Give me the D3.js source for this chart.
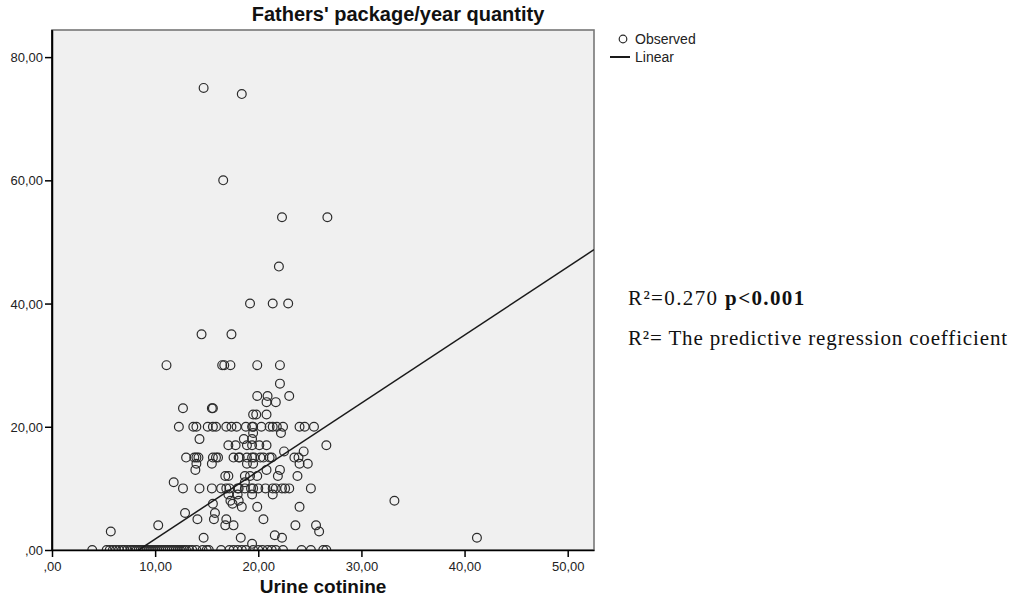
<!DOCTYPE html>
<html><head><meta charset="utf-8">
<script src="https://cdn.jsdelivr.net/npm/d3@7/dist/d3.min.js"></script>
<style>body{margin:0;background:#fff}svg{display:block}</style>
</head><body>
<svg id="chart" width="1016" height="609"></svg>
<script>
// ---- data ----
const title = "Fathers' package/year quantity";
const xLabel = "Urine cotinine";
const xTicks = [0, 10, 20, 30, 40, 50];
const yTicks = [0, 20, 40, 60, 80];
const legendLabels = ["Observed", "Linear"];
const annotation1 = ["R²=0.270  ", "p<0.001"];
const annotation2 = "R²= The predictive regression coefficient";
// regression line (linear fit) : packYears = intercept + slope * cotinine
const intercept = -9.27;
const slope = 1.104;
// observed values: urine cotinine (x) and package/year (y)
const cotinine = [
  14.7, 18.4, 16.6, 22.3, 26.7, 22.0,
  19.2, 21.4, 22.9,
  14.5, 17.4,
  11.1, 16.5, 16.7, 17.3, 19.9, 22.1,
  22.1,
  19.9, 20.9, 23.0,
  20.8, 21.7,
  12.7, 15.5, 15.6,
  19.5, 19.8, 20.8,
  12.3, 13.7, 14.0, 15.1, 15.6, 15.9, 16.9, 17.4, 17.9, 18.8, 19.4, 19.5, 20.3, 21.1, 21.4, 21.8, 22.4, 24.0, 24.5, 25.4,
  22.2, 19.5,
  14.3, 18.6, 19.4,
  17.1, 17.8, 18.9, 19.4, 20.1, 20.8, 26.6,
  22.5, 24.4,
  13.0, 13.8, 14.0, 14.2, 15.6, 15.9, 16.1, 17.6, 18.1, 18.2, 18.9, 19.4, 19.6, 20.2, 20.5, 21.1, 21.3, 23.5, 23.9,
  14.0, 15.5, 18.9, 19.5, 24.0, 24.8,
  13.9, 20.8, 22.1,
  16.8, 17.1, 18.7, 19.2, 19.9, 21.9, 23.8,
  11.8, 18.7,
  12.7, 14.3, 15.5, 16.4, 16.9, 17.2, 18.0, 18.1, 18.7, 19.3, 19.5, 20.0, 20.7, 21.4, 21.7, 22.3, 22.6, 23.0, 25.1,
  17.1, 18.0, 19.4, 21.4,
  17.3, 18.1, 33.2,
  15.6, 17.5,
  18.4, 19.9, 24.0,
  12.9, 15.8,
  14.1, 15.7, 16.9, 20.5,
  10.3, 16.8, 17.6, 23.6, 25.6,
  5.7, 25.9,
  14.7, 18.3, 22.3, 41.2, 21.6,
  19.4,
  3.9, 5.3, 5.6, 5.9, 6.2, 6.5, 6.8, 7.0, 7.3, 7.6, 7.8, 8.0, 8.2, 8.4, 8.6, 8.8, 9.0, 9.2, 9.4, 9.6, 9.8, 10.0,
  10.2, 10.4, 10.6, 10.8, 11.0, 11.2, 11.4, 11.6, 11.8, 12.0, 12.2, 12.4, 12.6, 12.8, 13.0, 13.3, 13.6, 14.0, 14.6,
  15.0, 15.2, 16.4, 17.2, 17.6, 18.0, 18.4, 18.8, 19.5, 20.0, 20.4, 20.9, 21.3, 21.7, 22.4, 24.2, 25.1, 26.3, 26.6
];
const packYears = [
  75, 74, 60, 54, 54, 46,
  40, 40, 40,
  35, 35,
  30, 30, 30, 30, 30, 30,
  27,
  25, 25, 25,
  24, 24,
  23, 23, 23,
  22, 22, 22,
  20, 20, 20, 20, 20, 20, 20, 20, 20, 20, 20, 20, 20, 20, 20, 20, 20, 20, 20, 20,
  19, 19,
  18, 18, 18,
  17, 17, 17, 17, 17, 17, 17,
  16, 16,
  15, 15, 15, 15, 15, 15, 15, 15, 15, 15, 15, 15, 15, 15, 15, 15, 15, 15, 15,
  14, 14, 14, 14, 14, 14,
  13, 13, 13,
  12, 12, 12, 12, 12, 12, 12,
  11, 11,
  10, 10, 10, 10, 10, 10, 10, 10, 10, 10, 10, 10, 10, 10, 10, 10, 10, 10, 10,
  9, 9, 9, 9,
  8, 8, 8,
  7.5, 7.5,
  7, 7, 7,
  6, 6,
  5, 5, 5, 5,
  4, 4, 4, 4, 4,
  3, 3,
  2, 2, 2, 2, 2.4,
  1,
  0, 0, 0, 0, 0, 0, 0, 0, 0, 0, 0, 0, 0, 0, 0, 0, 0, 0, 0, 0, 0, 0,
  0, 0, 0, 0, 0, 0, 0, 0, 0, 0, 0, 0, 0, 0, 0, 0, 0, 0, 0,
  0, 0, 0, 0, 0, 0, 0, 0, 0, 0, 0, 0, 0, 0, 0, 0, 0, 0, 0
];

// ---- layout ----
const svg = d3.select("#chart");
const plot = {left: 52, right: 594, top: 30, bottom: 550};
const x = d3.scaleLinear().domain([0, 52.55]).range([plot.left, plot.right]);
const y = d3.scaleLinear().domain([0, 84.4]).range([plot.bottom, plot.top]);
const fmt = v => (v === 0 ? "" : String(v)) + ",00";
const sans = "Liberation Sans, Arial, sans-serif";
const serif = "Liberation Serif, Times New Roman, serif";

svg.append("defs").append("clipPath").attr("id", "clip")
  .append("rect").attr("x", plot.left).attr("y", plot.top)
  .attr("width", plot.right - plot.left).attr("height", plot.bottom - plot.top);

// plot background and frame
svg.append("rect").attr("x", plot.left).attr("y", plot.top)
  .attr("width", plot.right - plot.left).attr("height", plot.bottom - plot.top)
  .attr("fill", "#f0f0f0").attr("stroke", "#777").attr("stroke-width", 1.6);

// points
svg.append("g").attr("clip-path", "url(#clip)")
  .selectAll("circle").data(cotinine.map((c, i) => [c, packYears[i]]))
  .join("circle")
  .attr("cx", d => x(d[0])).attr("cy", d => y(d[1])).attr("r", 4.4)
  .attr("fill", "none").attr("stroke", "#2b2b2b").attr("stroke-width", 1.2);

// regression line
const xs = x.domain();
svg.append("g").attr("clip-path", "url(#clip)").append("line")
  .attr("x1", x(xs[0])).attr("y1", y(intercept + slope * xs[0]))
  .attr("x2", x(xs[1])).attr("y2", y(intercept + slope * xs[1]))
  .attr("stroke", "#1a1a1a").attr("stroke-width", 1.5);

// axes
const xAxis = svg.append("g").attr("transform", `translate(0,${plot.bottom})`)
  .call(d3.axisBottom(x).tickValues(xTicks).tickFormat(fmt).tickSize(7).tickSizeOuter(0));
const yAxis = svg.append("g").attr("transform", `translate(${plot.left},0)`)
  .call(d3.axisLeft(y).tickValues(yTicks).tickFormat(fmt).tickSize(7).tickSizeOuter(0));
[xAxis, yAxis].forEach(a => {
  a.select(".domain").attr("stroke", "#000").attr("stroke-width", 1.5);
  a.selectAll(".tick line").attr("stroke", "#000").attr("stroke-width", 1.5);
  a.selectAll("text").attr("font-family", sans).attr("font-size", 13).attr("fill", "#222");
});
xAxis.selectAll("text").attr("y", 11).attr("dy", "0.8em");
yAxis.selectAll("text").attr("dy", "0.35em").attr("x", -9);
svg.append("line").attr("x1", plot.left).attr("x2", plot.left).attr("y1", plot.top).attr("y2", plot.bottom)
  .attr("stroke", "#000").attr("stroke-width", 1.5);

// title and axis label
svg.append("text").attr("x", 398).attr("y", 21)
  .attr("text-anchor", "middle").attr("font-family", sans)
  .attr("font-weight", "bold").attr("font-size", 20).attr("fill", "#111").text(title);
svg.append("text").attr("x", (plot.left + plot.right) / 2).attr("y", 593)
  .attr("text-anchor", "middle").attr("font-family", sans)
  .attr("font-weight", "bold").attr("font-size", 19).attr("fill", "#111").text(xLabel);

// legend
const lg = svg.append("g").attr("font-family", sans).attr("font-size", 14).attr("fill", "#222");
lg.append("circle").attr("cx", 623).attr("cy", 39).attr("r", 3.8).attr("fill", "none").attr("stroke", "#2b2b2b").attr("stroke-width", 1.2);
lg.append("text").attr("x", 635).attr("y", 44).text(legendLabels[0]);
lg.append("line").attr("x1", 610).attr("x2", 630).attr("y1", 57).attr("y2", 57).attr("stroke", "#1a1a1a").attr("stroke-width", 2);
lg.append("text").attr("x", 635).attr("y", 62).text(legendLabels[1]);

// annotations (fit to the widths seen in the reference)
function fitText(sel, target) {
  const w = sel.node().getComputedTextLength();
  const n = sel.text().length;
  sel.attr("letter-spacing", ((target - w) / n).toFixed(2));
}
const a1 = svg.append("text").attr("x", 628).attr("y", 305)
  .attr("font-family", serif).attr("font-size", 21).attr("fill", "#111");
a1.append("tspan").text(annotation1[0]);
a1.append("tspan").attr("font-weight", "bold").text(annotation1[1]);
fitText(a1, 179);
const a2 = svg.append("text").attr("x", 628).attr("y", 345)
  .attr("font-family", serif).attr("font-size", 21).attr("fill", "#111")
  .text(annotation2);
fitText(a2, 380);
</script>
</body></html>
